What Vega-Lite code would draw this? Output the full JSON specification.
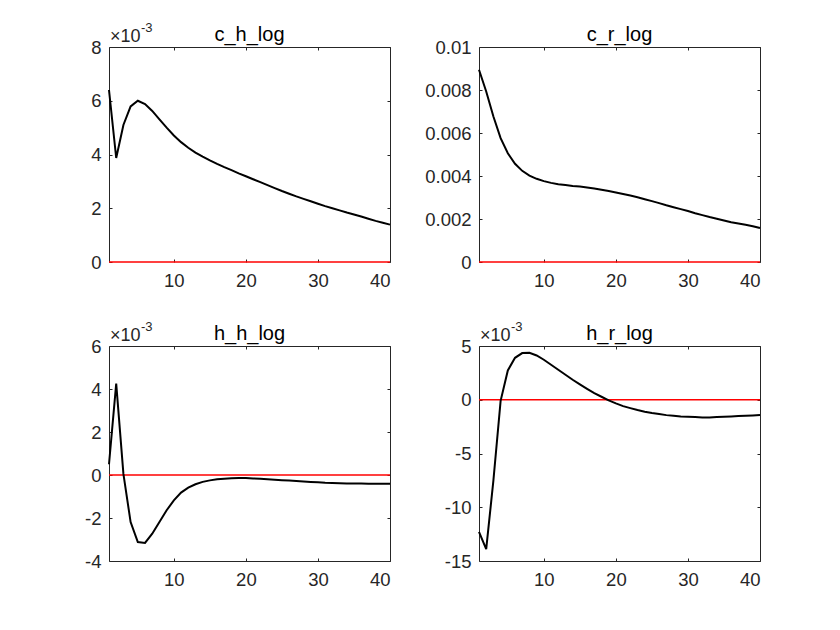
{
  "$schema": "https://vega.github.io/schema/vega-lite/v6.json",
  "autosize": {"type": "none"},
  "padding": {"left": 109, "top": 47, "right": 731, "bottom": 583},
  "background": "white",
  "datasets": {
    "irf": [
      {"s":"c_h_log","t":1,"v":0.0064},{"s":"c_h_log","t":2,"v":0.00387},{"s":"c_h_log","t":3,"v":0.0051},{"s":"c_h_log","t":4,"v":0.00579},{"s":"c_h_log","t":5,"v":0.006},
      {"s":"c_h_log","t":6,"v":0.00588},{"s":"c_h_log","t":7,"v":0.00562},{"s":"c_h_log","t":8,"v":0.00531},{"s":"c_h_log","t":9,"v":0.005},{"s":"c_h_log","t":10,"v":0.00471},
      {"s":"c_h_log","t":11,"v":0.00446},{"s":"c_h_log","t":12,"v":0.00425},{"s":"c_h_log","t":13,"v":0.00407},{"s":"c_h_log","t":14,"v":0.00392},{"s":"c_h_log","t":15,"v":0.00378},
      {"s":"c_h_log","t":16,"v":0.00365},{"s":"c_h_log","t":17,"v":0.00353},{"s":"c_h_log","t":18,"v":0.00342},{"s":"c_h_log","t":19,"v":0.0033},{"s":"c_h_log","t":20,"v":0.00319},
      {"s":"c_h_log","t":21,"v":0.00308},{"s":"c_h_log","t":22,"v":0.00297},{"s":"c_h_log","t":23,"v":0.00286},{"s":"c_h_log","t":24,"v":0.00275},{"s":"c_h_log","t":25,"v":0.00264},
      {"s":"c_h_log","t":26,"v":0.00254},{"s":"c_h_log","t":27,"v":0.00244},{"s":"c_h_log","t":28,"v":0.00235},{"s":"c_h_log","t":29,"v":0.00226},{"s":"c_h_log","t":30,"v":0.00217},
      {"s":"c_h_log","t":31,"v":0.00208},{"s":"c_h_log","t":32,"v":0.002},{"s":"c_h_log","t":33,"v":0.00192},{"s":"c_h_log","t":34,"v":0.00184},{"s":"c_h_log","t":35,"v":0.00177},
      {"s":"c_h_log","t":36,"v":0.00169},{"s":"c_h_log","t":37,"v":0.00161},{"s":"c_h_log","t":38,"v":0.00153},{"s":"c_h_log","t":39,"v":0.00146},{"s":"c_h_log","t":40,"v":0.00139},

      {"s":"c_r_log","t":1,"v":0.00894},{"s":"c_r_log","t":2,"v":0.00793},{"s":"c_r_log","t":3,"v":0.00677},{"s":"c_r_log","t":4,"v":0.00576},{"s":"c_r_log","t":5,"v":0.00506},
      {"s":"c_r_log","t":6,"v":0.00457},{"s":"c_r_log","t":7,"v":0.00424},{"s":"c_r_log","t":8,"v":0.00402},{"s":"c_r_log","t":9,"v":0.00387},{"s":"c_r_log","t":10,"v":0.00376},
      {"s":"c_r_log","t":11,"v":0.00368},{"s":"c_r_log","t":12,"v":0.00362},{"s":"c_r_log","t":13,"v":0.00358},{"s":"c_r_log","t":14,"v":0.00354},{"s":"c_r_log","t":15,"v":0.00351},
      {"s":"c_r_log","t":16,"v":0.00347},{"s":"c_r_log","t":17,"v":0.00342},{"s":"c_r_log","t":18,"v":0.00336},{"s":"c_r_log","t":19,"v":0.0033},{"s":"c_r_log","t":20,"v":0.00323},
      {"s":"c_r_log","t":21,"v":0.00316},{"s":"c_r_log","t":22,"v":0.00309},{"s":"c_r_log","t":23,"v":0.00301},{"s":"c_r_log","t":24,"v":0.00292},{"s":"c_r_log","t":25,"v":0.00283},
      {"s":"c_r_log","t":26,"v":0.00274},{"s":"c_r_log","t":27,"v":0.00264},{"s":"c_r_log","t":28,"v":0.00255},{"s":"c_r_log","t":29,"v":0.00246},{"s":"c_r_log","t":30,"v":0.00237},
      {"s":"c_r_log","t":31,"v":0.00227},{"s":"c_r_log","t":32,"v":0.00218},{"s":"c_r_log","t":33,"v":0.00209},{"s":"c_r_log","t":34,"v":0.00201},{"s":"c_r_log","t":35,"v":0.00193},
      {"s":"c_r_log","t":36,"v":0.00185},{"s":"c_r_log","t":37,"v":0.00179},{"s":"c_r_log","t":38,"v":0.00173},{"s":"c_r_log","t":39,"v":0.00166},{"s":"c_r_log","t":40,"v":0.00158},

      {"s":"h_h_log","t":1,"v":0.0005},{"s":"h_h_log","t":2,"v":0.00425},{"s":"h_h_log","t":3,"v":0.00005},{"s":"h_h_log","t":4,"v":-0.00219},{"s":"h_h_log","t":5,"v":-0.00312},
      {"s":"h_h_log","t":6,"v":-0.00316},{"s":"h_h_log","t":7,"v":-0.00273},{"s":"h_h_log","t":8,"v":-0.00219},{"s":"h_h_log","t":9,"v":-0.00164},{"s":"h_h_log","t":10,"v":-0.00118},
      {"s":"h_h_log","t":11,"v":-0.00082},{"s":"h_h_log","t":12,"v":-0.00059},{"s":"h_h_log","t":13,"v":-0.00043},{"s":"h_h_log","t":14,"v":-0.00032},{"s":"h_h_log","t":15,"v":-0.00025},
      {"s":"h_h_log","t":16,"v":-0.0002},{"s":"h_h_log","t":17,"v":-0.00017},{"s":"h_h_log","t":18,"v":-0.00015},{"s":"h_h_log","t":19,"v":-0.00014},{"s":"h_h_log","t":20,"v":-0.00014},
      {"s":"h_h_log","t":21,"v":-0.00016},{"s":"h_h_log","t":22,"v":-0.00018},{"s":"h_h_log","t":23,"v":-0.0002},{"s":"h_h_log","t":24,"v":-0.00022},{"s":"h_h_log","t":25,"v":-0.00024},
      {"s":"h_h_log","t":26,"v":-0.00026},{"s":"h_h_log","t":27,"v":-0.00028},{"s":"h_h_log","t":28,"v":-0.0003},{"s":"h_h_log","t":29,"v":-0.00032},{"s":"h_h_log","t":30,"v":-0.00034},
      {"s":"h_h_log","t":31,"v":-0.00036},{"s":"h_h_log","t":32,"v":-0.00037},{"s":"h_h_log","t":33,"v":-0.00038},{"s":"h_h_log","t":34,"v":-0.00039},{"s":"h_h_log","t":35,"v":-0.0004},
      {"s":"h_h_log","t":36,"v":-0.0004},{"s":"h_h_log","t":37,"v":-0.00041},{"s":"h_h_log","t":38,"v":-0.00041},{"s":"h_h_log","t":39,"v":-0.00041},{"s":"h_h_log","t":40,"v":-0.00041},

      {"s":"h_r_log","t":1,"v":-0.0123},{"s":"h_r_log","t":2,"v":-0.0139},{"s":"h_r_log","t":3,"v":-0.0075},{"s":"h_r_log","t":4,"v":-0.0001},{"s":"h_r_log","t":5,"v":0.00273},
      {"s":"h_r_log","t":6,"v":0.0039},{"s":"h_r_log","t":7,"v":0.00434},{"s":"h_r_log","t":8,"v":0.00437},{"s":"h_r_log","t":9,"v":0.00412},{"s":"h_r_log","t":10,"v":0.00372},
      {"s":"h_r_log","t":11,"v":0.00326},{"s":"h_r_log","t":12,"v":0.00279},{"s":"h_r_log","t":13,"v":0.00233},{"s":"h_r_log","t":14,"v":0.00186},{"s":"h_r_log","t":15,"v":0.00143},
      {"s":"h_r_log","t":16,"v":0.00102},{"s":"h_r_log","t":17,"v":0.00062},{"s":"h_r_log","t":18,"v":0.00028},{"s":"h_r_log","t":19,"v":-0.00006},{"s":"h_r_log","t":20,"v":-0.00034},
      {"s":"h_r_log","t":21,"v":-0.00059},{"s":"h_r_log","t":22,"v":-0.00078},{"s":"h_r_log","t":23,"v":-0.00096},{"s":"h_r_log","t":24,"v":-0.00112},{"s":"h_r_log","t":25,"v":-0.00124},
      {"s":"h_r_log","t":26,"v":-0.00133},{"s":"h_r_log","t":27,"v":-0.00143},{"s":"h_r_log","t":28,"v":-0.00149},{"s":"h_r_log","t":29,"v":-0.00155},{"s":"h_r_log","t":30,"v":-0.00158},
      {"s":"h_r_log","t":31,"v":-0.00161},{"s":"h_r_log","t":32,"v":-0.00164},{"s":"h_r_log","t":33,"v":-0.00164},{"s":"h_r_log","t":34,"v":-0.00161},{"s":"h_r_log","t":35,"v":-0.00158},
      {"s":"h_r_log","t":36,"v":-0.00155},{"s":"h_r_log","t":37,"v":-0.00152},{"s":"h_r_log","t":38,"v":-0.00149},{"s":"h_r_log","t":39,"v":-0.00146},{"s":"h_r_log","t":40,"v":-0.00143}
    ]
  },
  "bounds": "flush",
  "columns": 2,
  "spacing": {"row": 84, "column": 89},
  "concat": [
    {
      "width": 281, "height": 215,
      "layer": [
        {
          "data": {"values": [{}]},
          "mark": {"type": "rule", "color": "#ff0000", "strokeWidth": 1.5},
          "encoding": {
            "x": {"datum": 1, "type": "quantitative", "scale": {"domain": [1, 40], "nice": false, "zero": false},
                  "axis": {"orient": "top", "values": [10, 20, 30, 40], "labels": false, "title": null}},
            "x2": {"datum": 40},
            "y": {"datum": 0, "type": "quantitative", "scale": {"domain": [0, 0.008], "nice": false, "zero": false},
                  "axis": {"orient": "right", "values": [0, 0.002, 0.004, 0.006, 0.008], "labels": false, "title": null}}
          }
        },
        {
          "data": {"name": "irf"},
          "transform": [{"filter": "datum.s === 'c_h_log'"}],
          "mark": {"type": "line", "color": "#000000", "strokeWidth": 2},
          "encoding": {
            "x": {"field": "t", "type": "quantitative", "axis": {"orient": "bottom", "values": [10, 20, 30, 40], "domain": false, "title": null}},
            "y": {"field": "v", "type": "quantitative",
                  "axis": {"orient": "left", "values": [0, 0.002, 0.004, 0.006, 0.008], "labelExpr": "'' + round(datum.value * 1000)", "title": null}}
          }
        },
        {
          "data": {"values": [{"label": "c_h_log"}]},
          "mark": {"type": "text", "align": "center", "baseline": "alphabetic", "dy": -6, "fontSize": 20, "color": "#000000"},
          "encoding": {"text": {"field": "label"}, "x": {"datum": 20.5, "type": "quantitative", "axis": null}, "y": {"datum": 0.008, "type": "quantitative", "axis": null}}
        },
        {
          "data": {"values": [{"label": "×10"}]},
          "mark": {"type": "text", "align": "left", "baseline": "alphabetic", "dx": 1, "dy": -5.5, "fontSize": 18, "color": "#262626"},
          "encoding": {"text": {"field": "label"}, "x": {"datum": 1, "type": "quantitative", "axis": null}, "y": {"datum": 0.008, "type": "quantitative", "axis": null}}
        },
        {
          "data": {"values": [{"label": "-3"}]},
          "mark": {"type": "text", "align": "left", "baseline": "alphabetic", "dx": 32, "dy": -15, "fontSize": 13, "color": "#262626"},
          "encoding": {"text": {"field": "label"}, "x": {"datum": 1, "type": "quantitative", "axis": null}, "y": {"datum": 0.008, "type": "quantitative", "axis": null}}
        }
      ],
      "resolve": {"axis": {"x": "independent", "y": "independent"}}
    },
    {
      "width": 281, "height": 215,
      "layer": [
        {
          "data": {"values": [{}]},
          "mark": {"type": "rule", "color": "#ff0000", "strokeWidth": 1.5},
          "encoding": {
            "x": {"datum": 1, "type": "quantitative", "scale": {"domain": [1, 40], "nice": false, "zero": false},
                  "axis": {"orient": "top", "values": [10, 20, 30, 40], "labels": false, "title": null}},
            "x2": {"datum": 40},
            "y": {"datum": 0, "type": "quantitative", "scale": {"domain": [0, 0.01], "nice": false, "zero": false},
                  "axis": {"orient": "right", "values": [0, 0.002, 0.004, 0.006, 0.008, 0.01], "labels": false, "title": null}}
          }
        },
        {
          "data": {"name": "irf"},
          "transform": [{"filter": "datum.s === 'c_r_log'"}],
          "mark": {"type": "line", "color": "#000000", "strokeWidth": 2},
          "encoding": {
            "x": {"field": "t", "type": "quantitative", "axis": {"orient": "bottom", "values": [10, 20, 30, 40], "domain": false, "title": null}},
            "y": {"field": "v", "type": "quantitative",
                  "axis": {"orient": "left", "values": [0, 0.002, 0.004, 0.006, 0.008, 0.01], "format": "~g", "title": null}}
          }
        },
        {
          "data": {"values": [{"label": "c_r_log"}]},
          "mark": {"type": "text", "align": "center", "baseline": "alphabetic", "dy": -6, "fontSize": 20, "color": "#000000"},
          "encoding": {"text": {"field": "label"}, "x": {"datum": 20.5, "type": "quantitative", "axis": null}, "y": {"datum": 0.01, "type": "quantitative", "axis": null}}
        }
      ],
      "resolve": {"axis": {"x": "independent", "y": "independent"}}
    },
    {
      "width": 281, "height": 215,
      "layer": [
        {
          "data": {"values": [{}]},
          "mark": {"type": "rule", "color": "#ff0000", "strokeWidth": 1.5},
          "encoding": {
            "x": {"datum": 1, "type": "quantitative", "scale": {"domain": [1, 40], "nice": false, "zero": false},
                  "axis": {"orient": "top", "values": [10, 20, 30, 40], "labels": false, "title": null}},
            "x2": {"datum": 40},
            "y": {"datum": 0, "type": "quantitative", "scale": {"domain": [-0.004, 0.006], "nice": false, "zero": false},
                  "axis": {"orient": "right", "values": [-0.004, -0.002, 0, 0.002, 0.004, 0.006], "labels": false, "title": null}}
          }
        },
        {
          "data": {"name": "irf"},
          "transform": [{"filter": "datum.s === 'h_h_log'"}],
          "mark": {"type": "line", "color": "#000000", "strokeWidth": 2},
          "encoding": {
            "x": {"field": "t", "type": "quantitative", "axis": {"orient": "bottom", "values": [10, 20, 30, 40], "title": null}},
            "y": {"field": "v", "type": "quantitative",
                  "axis": {"orient": "left", "values": [-0.004, -0.002, 0, 0.002, 0.004, 0.006], "labelExpr": "'' + round(datum.value * 1000)", "title": null}}
          }
        },
        {
          "data": {"values": [{"label": "h_h_log"}]},
          "mark": {"type": "text", "align": "center", "baseline": "alphabetic", "dy": -6, "fontSize": 20, "color": "#000000"},
          "encoding": {"text": {"field": "label"}, "x": {"datum": 20.5, "type": "quantitative", "axis": null}, "y": {"datum": 0.006, "type": "quantitative", "axis": null}}
        },
        {
          "data": {"values": [{"label": "×10"}]},
          "mark": {"type": "text", "align": "left", "baseline": "alphabetic", "dx": 1, "dy": -5.5, "fontSize": 18, "color": "#262626"},
          "encoding": {"text": {"field": "label"}, "x": {"datum": 1, "type": "quantitative", "axis": null}, "y": {"datum": 0.006, "type": "quantitative", "axis": null}}
        },
        {
          "data": {"values": [{"label": "-3"}]},
          "mark": {"type": "text", "align": "left", "baseline": "alphabetic", "dx": 32, "dy": -15, "fontSize": 13, "color": "#262626"},
          "encoding": {"text": {"field": "label"}, "x": {"datum": 1, "type": "quantitative", "axis": null}, "y": {"datum": 0.006, "type": "quantitative", "axis": null}}
        }
      ],
      "resolve": {"axis": {"x": "independent", "y": "independent"}}
    },
    {
      "width": 281, "height": 215,
      "layer": [
        {
          "data": {"values": [{}]},
          "mark": {"type": "rule", "color": "#ff0000", "strokeWidth": 1.5},
          "encoding": {
            "x": {"datum": 1, "type": "quantitative", "scale": {"domain": [1, 40], "nice": false, "zero": false},
                  "axis": {"orient": "top", "values": [10, 20, 30, 40], "labels": false, "title": null}},
            "x2": {"datum": 40},
            "y": {"datum": 0, "type": "quantitative", "scale": {"domain": [-0.015, 0.005], "nice": false, "zero": false},
                  "axis": {"orient": "right", "values": [-0.015, -0.01, -0.005, 0, 0.005], "labels": false, "title": null}}
          }
        },
        {
          "data": {"name": "irf"},
          "transform": [{"filter": "datum.s === 'h_r_log'"}],
          "mark": {"type": "line", "color": "#000000", "strokeWidth": 2},
          "encoding": {
            "x": {"field": "t", "type": "quantitative", "axis": {"orient": "bottom", "values": [10, 20, 30, 40], "title": null}},
            "y": {"field": "v", "type": "quantitative",
                  "axis": {"orient": "left", "values": [-0.015, -0.01, -0.005, 0, 0.005], "labelExpr": "'' + round(datum.value * 1000)", "title": null}}
          }
        },
        {
          "data": {"values": [{"label": "h_r_log"}]},
          "mark": {"type": "text", "align": "center", "baseline": "alphabetic", "dy": -6, "fontSize": 20, "color": "#000000"},
          "encoding": {"text": {"field": "label"}, "x": {"datum": 20.5, "type": "quantitative", "axis": null}, "y": {"datum": 0.005, "type": "quantitative", "axis": null}}
        },
        {
          "data": {"values": [{"label": "×10"}]},
          "mark": {"type": "text", "align": "left", "baseline": "alphabetic", "dx": 1, "dy": -5.5, "fontSize": 18, "color": "#262626"},
          "encoding": {"text": {"field": "label"}, "x": {"datum": 1, "type": "quantitative", "axis": null}, "y": {"datum": 0.005, "type": "quantitative", "axis": null}}
        },
        {
          "data": {"values": [{"label": "-3"}]},
          "mark": {"type": "text", "align": "left", "baseline": "alphabetic", "dx": 32, "dy": -15, "fontSize": 13, "color": "#262626"},
          "encoding": {"text": {"field": "label"}, "x": {"datum": 1, "type": "quantitative", "axis": null}, "y": {"datum": 0.005, "type": "quantitative", "axis": null}}
        }
      ],
      "resolve": {"axis": {"x": "independent", "y": "independent"}}
    }
  ],
  "config": {
    "font": "Liberation Sans",
    "view": {"stroke": null},
    "axis": {
      "domain": true,
      "domainColor": "#262626",
      "domainWidth": 1,
      "grid": false,
      "tickColor": "#262626",
      "tickWidth": 1,
      "tickSize": -3,
      "labelColor": "#262626",
      "labelFont": "Liberation Sans",
      "labelFontSize": 18.5
    },
    "axisX": {"labelPadding": 12},
    "axisY": {"labelPadding": 11},
    "text": {"font": "Liberation Sans"}
  }
}
